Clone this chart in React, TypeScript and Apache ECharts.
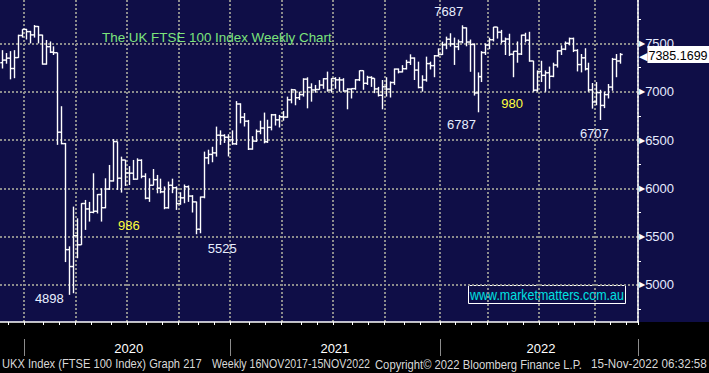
import React, { useEffect, useRef } from "react";
import * as echarts from "echarts";

// ---------- data ----------
const FIRST_WEEK_UTC = Date.UTC(2019, 10, 22); // first weekly bar (Fri 22 Nov 2019)
const WEEK_SLOTS = 161; // weekly slots on the axis (bars + empty space on the right)

const opens = [
  7300, 7327, 7347, 7240, 7353, 7582, 7645, 7622, 7588, 7675,
  7586, 7286, 7466, 7409, 7404, 6581, 6463, 5366, 5191, 5510,
  5416, 5843, 5787, 5752, 5763, 5936, 5800, 5993, 6077, 6484,
  6105, 6293, 6159, 6157, 6095, 6290, 6124, 5898, 6032, 6090,
  6001, 5964, 5799, 6032, 6007, 5842, 5902, 6017, 5920, 5860,
  5577, 5910, 6316, 6351, 6367, 6550, 6547, 6529, 6502, 6461,
  6873, 6736, 6695, 6407, 6489, 6589, 6624, 6483, 6631, 6761,
  6709, 6741, 6737, 6916, 7020, 6938, 6970, 7130, 7044, 7018,
  7023, 7069, 7134, 7017, 7136, 7123, 7122, 7008, 7027, 7032,
  7123, 7218, 7087, 7148, 7138, 7029, 6963, 7051, 7027, 7095,
  7234, 7205, 7238, 7304, 7348, 7224, 7044, 7122, 7291, 7270,
  7372, 7385, 7485, 7543, 7494, 7466, 7516, 7661, 7514, 7489,
  6987, 7156, 7405, 7483, 7538, 7669, 7616, 7522, 7545, 7388,
  7418, 7390, 7585, 7533, 7318, 7016, 7209, 7169, 7196, 7159,
  7276, 7423, 7440, 7501, 7550, 7427, 7281, 7351, 7237, 7019,
  6894, 6991, 6858, 6970, 7048, 7335, 7318,
];
const highs = [
  7430, 7400, 7420, 7430, 7590, 7646, 7650, 7630, 7690, 7680,
  7590, 7535, 7520, 7470, 7404, 6850, 6470, 5400, 5811, 5690,
  5846, 5880, 5860, 6156, 5940, 6001, 6104, 6242, 6510, 6484,
  6328, 6295, 6230, 6294, 6311, 6301, 6156, 6104, 6200, 6139,
  6100, 6020, 6070, 6100, 6020, 5960, 6040, 6030, 5930, 5863,
  5915, 6380, 6400, 6430, 6639, 6600, 6560, 6560, 6600, 6903,
  6880, 6780, 6708, 6540, 6610, 6700, 6784, 6710, 6770, 6770,
  6760, 6800, 6949, 7030, 7020, 7000, 7139, 7149, 7087, 7070,
  7120, 7140, 7208, 7140, 7150, 7150, 7140, 7035, 7035, 7130,
  7220, 7220, 7165, 7160, 7140, 7050, 7121, 7150, 7106, 7240,
  7240, 7275, 7330, 7387, 7355, 7311, 7170, 7363, 7311, 7380,
  7449, 7518, 7570, 7605, 7560, 7540, 7687, 7665, 7540, 7500,
  7200, 7420, 7500, 7560, 7670, 7670, 7640, 7560, 7600, 7420,
  7520, 7590, 7610, 7620, 7320, 7220, 7320, 7220, 7260, 7300,
  7430, 7480, 7520, 7560, 7560, 7440, 7390, 7450, 7300, 7090,
  7100, 7020, 7000, 7080, 7350, 7390, 7400,
];
const lows = [
  7240, 7290, 7128, 7140, 7350, 7560, 7540, 7500, 7560, 7500,
  7280, 7280, 7400, 7380, 6450, 6456, 5237, 4898, 4915, 5277,
  5415, 5570, 5656, 5742, 5740, 5656, 5794, 5984, 6070, 5984,
  5956, 6025, 6035, 6087, 6090, 6104, 5887, 5860, 6030, 5949,
  5949, 5784, 5790, 5950, 5777, 5830, 5846, 5860, 5750, 5525,
  5535, 5897, 6250, 6270, 6328, 6450, 6470, 6330, 6450, 6449,
  6673, 6640, 6397, 6400, 6480, 6560, 6466, 6470, 6600, 6650,
  6630, 6700, 6730, 6880, 6860, 6914, 6949, 6828, 6897, 6990,
  7020, 7030, 7001, 6990, 7030, 7000, 7000, 6818, 6930, 7020,
  7110, 7020, 7070, 7050, 6985, 6950, 6818, 6950, 6940, 7070,
  7190, 7200, 7230, 7277, 7121, 7035, 7001, 7104, 7230, 7150,
  7363, 7380, 7440, 7467, 7277, 7430, 7501, 7470, 7206, 6960,
  6787, 7100, 7380, 7440, 7520, 7550, 7500, 7380, 7370, 7150,
  7300, 7380, 7510, 7310, 7000, 7000, 7100, 7000, 7030, 7150,
  7250, 7380, 7430, 7480, 7410, 7210, 7200, 7220, 7000, 6825,
  6860, 6707, 6830, 6930, 7010, 7150, 7290,
];
const closes = [
  7327, 7347, 7240, 7353, 7582, 7645, 7622, 7588, 7675, 7586,
  7286, 7466, 7409, 7404, 6581, 6463, 5366, 5191, 5510, 5416,
  5843, 5787, 5752, 5763, 5936, 5800, 5993, 6077, 6484, 6105,
  6293, 6159, 6157, 6095, 6290, 6124, 5898, 6032, 6090, 6001,
  5964, 5799, 6032, 6007, 5842, 5902, 6017, 5920, 5860, 5577,
  5910, 6316, 6351, 6367, 6550, 6547, 6529, 6502, 6461, 6873,
  6736, 6695, 6407, 6489, 6589, 6624, 6483, 6631, 6761, 6709,
  6741, 6737, 6916, 7020, 6938, 6970, 7130, 7044, 7018, 7023,
  7069, 7134, 7017, 7136, 7123, 7122, 7008, 7027, 7032, 7123,
  7218, 7087, 7148, 7138, 7029, 6963, 7051, 7027, 7095, 7234,
  7205, 7238, 7304, 7348, 7224, 7044, 7122, 7291, 7270, 7372,
  7385, 7485, 7543, 7494, 7466, 7516, 7661, 7514, 7489, 6987,
  7156, 7405, 7483, 7538, 7669, 7616, 7522, 7545, 7388, 7418,
  7390, 7585, 7533, 7318, 7016, 7209, 7169, 7196, 7159, 7276,
  7423, 7440, 7501, 7550, 7427, 7281, 7351, 7237, 7019, 6894,
  6991, 6858, 6970, 7048, 7335, 7318, 7385.1699,
];

// y-axis visible range
const Y_MIN = 4617;
const Y_MAX = 7949;

// annotations: text, week index, anchor value, colour
const annotationTexts = ["4898", "986", "5525", "7687", "6787", "980", "6707"];
const annotationWeeks = [17, 32, 49, 116, 120, 129, 151];
const annotationValues = [4898, 5611, 5525, 7687, 6787, 6883, 6707];
const annotationColors = ["#e8eeff", "#ffff3c", "#e8eeff", "#e8eeff", "#e8eeff", "#ffff3c", "#e8eeff"];
// label offsets (px) relative to the anchor
const annotationOffsets = [[-20, 4], [0, 0], [26, 14], [-13, -14], [-16, 12], [-1, 0], [-6, 13]];

const TITLE = "The UK FTSE 100 Index Weekly Chart";
const WEBSITE = "www.marketmatters.com.au";
const FOOTER = [
  "UKX Index (FTSE 100 Index) Graph 217",
  "Weekly 16NOV2017-15NOV2022",
  "Copyright\u00a9 2022 Bloomberg Finance L.P.",
  "15-Nov-2022 06:32:58",
];
// footer segment placement (left x, target width)
const FOOTER_X = [2, 212, 375, 591];
const FOOTER_W = [200, 158, 207, 116];

// ---------- derived axis helpers ----------
const weeks: string[] = [];
for (let k = 0; k < WEEK_SLOTS; k++) {
  weeks.push(new Date(FIRST_WEEK_UTC + k * 7 * 86400000).toISOString().slice(0, 10));
}
const monthStart = weeks.map((w, i) => i > 0 && w.slice(0, 7) !== weeks[i - 1].slice(0, 7));
const quarterStart = monthStart.map((m, i) => m && ["01", "04", "07", "10"].includes(weeks[i].slice(5, 7)));
const yearStart = monthStart.map((m, i) => m && weeks[i].slice(5, 7) === "01");
const yearIdx = yearStart.map((y, i) => (y ? i : -1)).filter((i) => i >= 0);
const yearLabelAt: Record<number, string> = {};
yearIdx.forEach((s, j) => {
  const e = j + 1 < yearIdx.length ? yearIdx[j + 1] : WEEK_SLOTS;
  yearLabelAt[Math.floor((s + e) / 2)] = weeks[s].slice(0, 4);
});

const FONT = '"Liberation Sans", Arial, sans-serif';

function measure(text: string, font: string): number {
  const c = document.createElement("canvas").getContext("2d");
  if (!c) return text.length * 6;
  c.font = font;
  return c.measureText(text).width;
}

export default function App() {
  const ref = useRef<HTMLDivElement>(null);

  useEffect(() => {
    if (!ref.current) return;
    const chart = echarts.init(ref.current, undefined, { renderer: "svg" });
    const last = closes[closes.length - 1];
    const barData = closes.map((c, i) => [i, opens[i], highs[i], lows[i], c]);

    const footFont = `12px ${FONT}`;
    const webFont = `14px ${FONT}`;
    const webScale = 154 / measure(WEBSITE, webFont);

    const option: any = {
      animation: false,
      backgroundColor: "transparent",
      textStyle: { fontFamily: FONT },
      title: {
        text: TITLE,
        left: 102,
        top: 31,
        padding: 0,
        textStyle: { color: "#7ce47c", fontSize: 13.4, fontWeight: "normal", fontFamily: FONT },
      },
      grid: { left: 0, right: 71, top: 0, bottom: 51, containLabel: false },
      xAxis: [
        {
          type: "category",
          data: weeks,
          boundaryGap: true,
          axisLine: { show: true, lineStyle: { color: "#ffffff", width: 1.5 } },
          axisTick: { show: true, interval: (i: number) => monthStart[i], length: 3, lineStyle: { color: "#ffffff" } },
          axisLabel: { show: false },
          splitLine: {
            show: true,
            interval: (i: number) => quarterStart[i],
            lineStyle: { color: "#8c8c8c", type: [2, 2], width: 2 },
          },
        },
        {
          type: "category",
          data: weeks,
          boundaryGap: true,
          position: "bottom",
          offset: 17,
          axisLine: { show: false },
          axisTick: { show: true, interval: (i: number) => yearStart[i], length: 17, lineStyle: { color: "#8c8c8c" } },
          axisLabel: {
            show: true,
            interval: (i: number) => yearLabelAt[i] !== undefined,
            formatter: (_v: string, i: number) => yearLabelAt[i] || "",
            color: "#ffffff",
            fontSize: 13,
            margin: 3,
            fontFamily: FONT,
          },
          splitLine: { show: false },
        },
      ],
      yAxis: {
        type: "value",
        position: "right",
        min: Y_MIN,
        max: Y_MAX,
        axisLine: { show: true, lineStyle: { color: "#ffffff", width: 1.5 } },
        axisTick: { show: false },
        minorTick: { show: true, splitNumber: 2, length: 3, lineStyle: { color: "#ffffff" } },
        axisLabel: {
          showMinLabel: false,
          showMaxLabel: false,
          margin: 1,
          formatter: (v: number) => `{t|\u25B6}{v|${v}}`,
          rich: {
            t: { color: "#ffffff", fontSize: 8, lineHeight: 8, fontFamily: "DejaVu Sans" },
            v: { color: "#e6ecff", fontSize: 13, lineHeight: 8, fontFamily: FONT },
          },
        },
        splitLine: {
          show: true,
          showMinLine: false,
          showMaxLine: false,
          lineStyle: { color: "#8c8c8c", type: [2, 2], width: 2 },
        },
        minorSplitLine: { show: false },
      },
      series: [
        {
          type: "custom",
          xAxisIndex: 0,
          yAxisIndex: 0,
          data: barData,
          encode: { x: 0, y: [1, 2, 3, 4] },
          clip: true,
          renderItem: (_params: any, api: any) => {
            const i = api.value(0);
            const o = api.coord([i, api.value(1)]);
            const h = api.coord([i, api.value(2)]);
            const l = api.coord([i, api.value(3)]);
            const c = api.coord([i, api.value(4)]);
            const x = Math.round(o[0]) + 0.5;
            const style = { stroke: "#ffffff", lineWidth: 1.4, fill: null };
            return {
              type: "group",
              children: [
                { type: "line", shape: { x1: x, y1: h[1], x2: x, y2: l[1] }, style },
                { type: "line", shape: { x1: x - 2.2, y1: o[1], x2: x, y2: o[1] }, style },
                { type: "line", shape: { x1: x, y1: c[1], x2: x + 2.2, y2: c[1] }, style },
              ],
            };
          },
          markPoint: {
            silent: true,
            symbol: "circle",
            symbolSize: 1,
            itemStyle: { color: "rgba(0,0,0,0)" },
            data: annotationTexts.map((t, j) => ({
              coord: [weeks[annotationWeeks[j]], annotationValues[j]],
              value: t,
              label: {
                show: true,
                position: "inside",
                formatter: t,
                color: annotationColors[j],
                fontSize: 13,
                fontFamily: FONT,
                offset: annotationOffsets[j],
              },
            })),
          },
          markLine: {
            silent: true,
            symbol: ["none", "none"],
            lineStyle: { color: "rgba(0,0,0,0)", width: 1, type: "solid" },
            data: [{ yAxis: last }],
            label: {
              show: true,
              position: "end",
              distance: 1,
              formatter: () => `{a|\u25C0}{b|${last.toFixed(4)}}`,
              rich: {
                a: { color: "#ffffff", fontSize: 11, lineHeight: 12, fontFamily: "DejaVu Sans", padding: [4, 0, 0, 0] },
                b: {
                  color: "#000000",
                  backgroundColor: "#ffffff",
                  fontSize: 12.5,
                  lineHeight: 13,
                  fontFamily: FONT,
                  padding: [4, 3, 0, 1],
                },
              },
            },
          },
        },
      ],
      graphic: [
        {
          type: "rect",
          shape: { x: 468.5, y: 285.5, width: 157, height: 18 },
          style: { fill: "none", stroke: "#ffffff", lineWidth: 1 },
        },
        {
          type: "text",
          x: 547,
          y: 295,
          scaleX: webScale,
          style: {
            text: WEBSITE,
            fill: "#00e2e2",
            font: webFont,
            textAlign: "center",
            textVerticalAlign: "middle",
            align: "center",
            verticalAlign: "middle",
          },
        },
        ...FOOTER.map((t, j) => ({
          type: "text",
          x: FOOTER_X[j],
          y: 364,
          scaleX: FOOTER_W[j] / measure(t, footFont),
          style: {
            text: t,
            fill: "#d8d8d8",
            font: footFont,
            textVerticalAlign: "middle",
            verticalAlign: "middle",
          },
        })),
      ],
    };

    chart.setOption(option);
    return () => chart.dispose();
  }, []);

  return (
    <div
      style={{
        position: "fixed",
        left: 0,
        top: 0,
        width: 709,
        height: 373,
        background: "linear-gradient(to bottom, #0f0e47 0px, #0f0e47 322px, #000000 322px, #000000 373px)",
      }}
    >
      <div ref={ref} style={{ width: 709, height: 373 }} />
    </div>
  );
}
